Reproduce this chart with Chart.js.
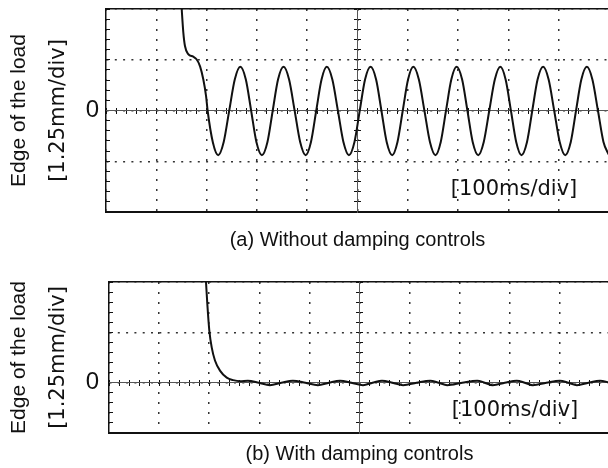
<!DOCTYPE html>
<html>
<head>
<meta charset="utf-8">
<script src="https://cdn.jsdelivr.net/npm/chart.js@4.4.1/dist/chart.umd.min.js"></script>
<style>
  html, body { margin: 0; padding: 0; background: #fff; overflow: hidden; }
  #wrap { position: relative; width: 608px; height: 468px; overflow: hidden; }
  canvas { position: absolute; left: 0; }
  #chartA { top: 0; }
  #chartB { top: 262px; }
</style>
</head>
<body>
<div id="wrap">
  <canvas id="chartA" width="610" height="262"></canvas>
  <canvas id="chartB" width="610" height="206"></canvas>
</div>
<script>
// time in ms (100 ms/div), edge position in divisions (1.25 mm/div)
const timeA = [
  148, 150.5, 153.7, 157, 163.5, 173.5, 180, 187, 193.5, 199, 202, 212.5, 223,
  234, 245, 256, 267,
  278, 288.5, 299, 310,
  321, 331.5, 342, 353,
  364, 375, 386, 397,
  407.5, 418, 428.5, 439,
  450, 461, 472, 483,
  494, 504.5, 515, 526,
  537, 547.5, 558, 569,
  579.5, 590, 600.5, 611,
  622, 633, 644, 655,
  665.5, 676, 686.5, 697,
  708, 718.5, 729, 740,
  751, 762, 773, 784,
  794.5, 805, 815.5, 826,
  837, 847.5, 858, 869,
  880, 891, 902, 913,
  924, 934.5, 945, 956,
  967, 978, 989, 1000
];
const edgeA = [
  2.4, 2.0, 1.54, 1.27, 1.11, 1.06, 1.01, 0.87, 0.61, 0.28, 0, -0.63, -0.88,
  -0.62, 0, 0.61, 0.86,
  0.61, 0, -0.62, -0.88,
  -0.62, 0, 0.61, 0.86,
  0.61, 0, -0.62, -0.88,
  -0.62, 0, 0.61, 0.86,
  0.61, 0, -0.62, -0.88,
  -0.62, 0, 0.61, 0.86,
  0.61, 0, -0.62, -0.88,
  -0.62, 0, 0.61, 0.86,
  0.61, 0, -0.62, -0.88,
  -0.62, 0, 0.61, 0.86,
  0.61, 0, -0.62, -0.88,
  -0.62, 0, 0.61, 0.86,
  0.61, 0, -0.62, -0.88,
  -0.62, 0, 0.61, 0.86,
  0.61, 0, -0.62, -0.88,
  -0.62, 0, 0.61, 0.86,
  0.61, 0, -0.62, -0.88
];

const timeB = [
  191, 193.6, 196.2, 200.2, 205, 211.5, 221.5, 235, 248, 262,
  277, 299, 321, 344, 367, 392, 417, 439, 461, 484,
  507, 526, 545, 566, 587, 614, 641, 658, 675, 705,
  735, 750, 766, 790, 814, 830, 846, 873, 900, 917,
  934, 957, 980, 1000
];
const edgeB = [
  2.5, 2.0, 1.57, 1.04, 0.70, 0.44, 0.24, 0.10, 0.05, 0.03,
  0.04, 0, -0.05, 0, 0.04, 0, -0.05, 0, 0.04, 0,
  -0.05, 0, 0.04, 0, -0.05, 0, 0.04, 0, -0.05, 0,
  0.04, 0, -0.05, 0, 0.04, 0, -0.05, 0, 0.04, 0,
  -0.05, 0, 0.04, 0
];

const yLabelLines = ['Edge of the load', '[1.25mm/div]'];
const timeLabel = '[100ms/div]';
const captions = ['(a) Without damping controls', '(b) With damping controls'];

Chart.defaults.font.family = '"Liberation Sans", Arial, sans-serif';
const ink = '#111';

// the "[100ms/div]" note sits inside the plot, bottom right
const divLabel = {
  id: 'divLabel',
  afterDraw(chart) {
    const { ctx, chartArea } = chart;
    ctx.save();
    ctx.font = '21px "DejaVu Sans"';
    ctx.fillStyle = ink;
    ctx.textAlign = 'center';
    ctx.textBaseline = 'middle';
    ctx.fillText(timeLabel, chartArea.right - 95, chartArea.bottom - 22);
    ctx.restore();
  }
};

// axis used only for its line and small tick marks (scope graticule)
function markAxis(axis, at, min, max, step, len, line) {
  return {
    type: 'linear', axis, position: at, min, max,
    ticks: { display: false, stepSize: step },
    grid: { drawOnChartArea: false, drawTicks: true, tickLength: len, tickColor: ink, tickWidth: 1 },
    border: { display: line, color: '#555', width: 1 }
  };
}

function drawScope(id, times, values, yMin, caption, left, yTickPad, captionPad, padding) {
  const points = times.map((t, i) => ({ x: t, y: values[i] }));
  const xTop = markAxis('x', { y: 2 }, 0, 1000, 100, 0, true);
  xTop.border.color = ink;
  xTop.border.width = 1.5;
  xTop.grid.drawTicks = false;

  return new Chart(document.getElementById(id), {
    type: 'line',
    data: {
      datasets: [{
        data: points, xAxisID: 'x', yAxisID: 'y',
        borderColor: ink, borderWidth: 2, pointRadius: 0,
        cubicInterpolationMode: 'monotone', fill: false
      }]
    },
    options: {
      responsive: false,
      animation: false,
      devicePixelRatio: 1,
      layout: { padding },
      plugins: { legend: { display: false }, tooltip: { enabled: false } },
      scales: {
        x: {
          type: 'linear', position: 'bottom', min: 0, max: 1000,
          ticks: { display: false, stepSize: 100 },
          grid: { color: '#333', lineWidth: 1.5, drawTicks: false },
          border: { color: ink, width: 2, dash: [2, 8] },
          title: { display: true, text: caption, color: ink, font: { size: 20 }, padding: { top: captionPad, bottom: 0 } }
        },
        y: {
          type: 'linear', position: 'left', min: yMin, max: 2,
          ticks: {
            stepSize: 1, autoSkip: false, padding: yTickPad, color: ink,
            font: { size: 24 },
            callback: v => (v === 0 ? '0' : '')
          },
          grid: { color: '#333', lineWidth: 1.5, drawTicks: false },
          border: { color: ink, width: 1.5, dash: [2, 6.3] },
          title: {
            display: true, text: yLabelLines[1], color: ink,
            font: { family: '"DejaVu Sans"', size: 21 }, padding: { top: 14, bottom: 0 }
          },
          afterFit: s => { s.width = left - 32; s.paddingTop = 0; s.paddingBottom = 0; }
        },
        yt: {
          type: 'linear', axis: 'y', position: 'left', weight: 1,
          ticks: { display: false },
          grid: { display: false },
          border: { display: false },
          title: { display: true, text: yLabelLines[0], color: ink, font: { size: 21 }, padding: { top: 7, bottom: 0 } },
          afterFit: s => { s.width = 32; }
        },
        xTop,
        xMidDn: markAxis('x', { y: 0 }, 0, 1000, 20, 3, true),
        xMidUp: markAxis('x', { y: 0 }, 0, 1000, 20, -3, false),
        yMidL: markAxis('y', { x: 500 }, yMin, 2, 0.2, 3, true),
        yMidR: markAxis('y', { x: 500 }, yMin, 2, 0.2, -3, false),
        yIn: markAxis('y', { x: 0 }, yMin, 2, 0.2, -4, false)
      }
    },
    plugins: [divLabel]
  });
}

drawScope('chartA', timeA, edgeA, -2, captions[0], 106, 7, 16, { top: 9, left: 0, right: 1, bottom: 10 });
drawScope('chartB', timeB, edgeB, -1, captions[1], 109, 10, 9, { top: 20, left: 0, right: 0, bottom: 2 });
</script>
</body>
</html>
